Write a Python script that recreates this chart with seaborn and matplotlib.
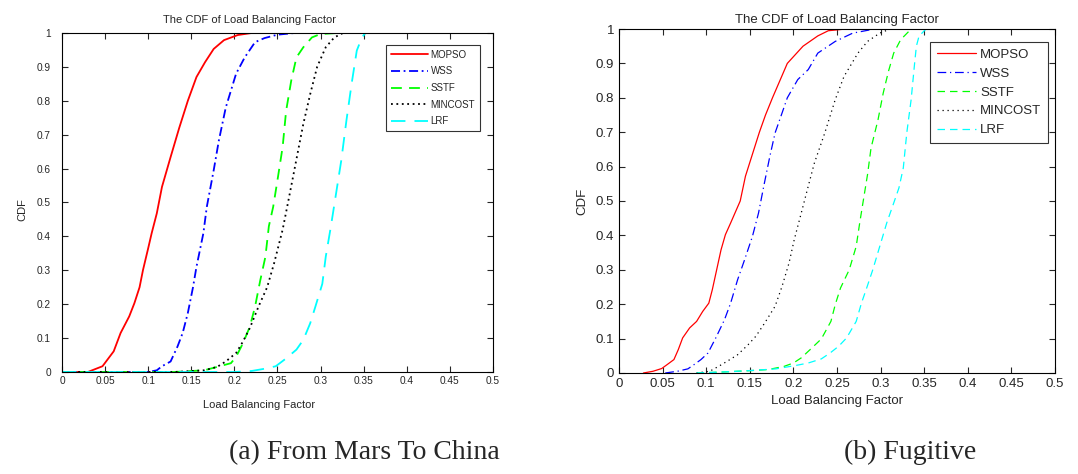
import matplotlib
matplotlib.use('Agg')
import matplotlib.pyplot as plt
import seaborn as sns

# (a) From Mars To China  -- x values and CDF values
a_mopso_x = [0.0, 0.03, 0.047, 0.06, 0.068, 0.078, 0.084, 0.09, 0.094, 0.1, 0.104, 0.11, 0.116, 0.126,
             0.136, 0.146, 0.156, 0.166, 0.176, 0.188, 0.204, 0.22, 0.5]
a_mopso_y = [0.0, 0.0, 0.017, 0.061, 0.115, 0.164, 0.203, 0.25, 0.301, 0.365, 0.409, 0.468, 0.546, 0.634,
             0.72, 0.80, 0.87, 0.914, 0.953, 0.979, 0.994, 1.0, 1.0]
a_wss_x = [0.0, 0.1, 0.11, 0.116, 0.126, 0.134, 0.14, 0.146, 0.152, 0.156, 0.164, 0.168, 0.176, 0.182,
           0.19, 0.202, 0.212, 0.224, 0.235, 0.25, 0.27, 0.5]
a_wss_y = [0.0, 0.0, 0.005, 0.017, 0.031, 0.075, 0.115, 0.174, 0.25, 0.31, 0.409, 0.487, 0.595, 0.683,
           0.78, 0.88, 0.928, 0.973, 0.985, 0.995, 1.0, 1.0]
a_sstf_x = [0.0, 0.13, 0.165, 0.18, 0.196, 0.202, 0.21, 0.218, 0.224, 0.23, 0.236, 0.24, 0.245, 0.25,
            0.256, 0.26, 0.266, 0.272, 0.28, 0.29, 0.3, 0.32, 0.5]
a_sstf_y = [0.0, 0.0, 0.005, 0.015, 0.026, 0.045, 0.085, 0.134, 0.193, 0.27, 0.34, 0.43, 0.487, 0.566,
            0.664, 0.77, 0.86, 0.928, 0.958, 0.987, 0.997, 1.0, 1.0]
a_mincost_x = [0.0, 0.13, 0.165, 0.18, 0.19, 0.202, 0.21, 0.218, 0.228, 0.238, 0.246, 0.256, 0.262, 0.268,
               0.274, 0.28, 0.288, 0.296, 0.306, 0.316, 0.326, 0.5]
a_mincost_y = [0.0, 0.0, 0.005, 0.015, 0.031, 0.056, 0.09, 0.13, 0.193, 0.25, 0.32, 0.42, 0.497, 0.575,
               0.654, 0.732, 0.82, 0.9, 0.958, 0.987, 1.0, 1.0]
a_lrf_x = [0.0, 0.2, 0.22, 0.236, 0.248, 0.26, 0.272, 0.28, 0.288, 0.294, 0.302, 0.306, 0.312, 0.318,
           0.324, 0.33, 0.336, 0.342, 0.348, 0.352, 0.5]
a_lrf_y = [0.0, 0.0, 0.003, 0.01, 0.017, 0.04, 0.066, 0.095, 0.144, 0.193, 0.26, 0.34, 0.43, 0.527,
           0.624, 0.742, 0.85, 0.948, 0.987, 1.0, 1.0]

# (b) Fugitive
b_mopso_x = [0.028, 0.039, 0.049, 0.055, 0.063, 0.068, 0.073, 0.081, 0.089, 0.096, 0.103, 0.107, 0.112,
             0.117, 0.122, 0.128, 0.139, 0.145, 0.151, 0.161, 0.168, 0.176, 0.193, 0.211, 0.228, 0.24, 0.26]
b_mopso_y = [0.0, 0.005, 0.013, 0.024, 0.039, 0.068, 0.102, 0.131, 0.15, 0.179, 0.203, 0.242, 0.3,
             0.358, 0.402, 0.436, 0.5, 0.572, 0.62, 0.7, 0.75, 0.8, 0.9, 0.95, 0.98, 0.995, 1.0]
b_wss_x = [0.053, 0.067, 0.079, 0.087, 0.094, 0.102, 0.111, 0.121, 0.128, 0.136, 0.144, 0.153, 0.16,
           0.166, 0.173, 0.179, 0.187, 0.193, 0.205, 0.217, 0.228, 0.248, 0.268, 0.293]
b_wss_y = [0.0, 0.005, 0.012, 0.026, 0.039, 0.058, 0.102, 0.155, 0.203, 0.271, 0.329, 0.397, 0.465,
           0.543, 0.63, 0.698, 0.756, 0.8, 0.853, 0.882, 0.93, 0.964, 0.988, 1.0]
b_sstf_x = [0.089, 0.12, 0.152, 0.171, 0.189, 0.2, 0.209, 0.22, 0.232, 0.243, 0.248, 0.254, 0.264,
            0.272, 0.276, 0.28, 0.285, 0.289, 0.297, 0.303, 0.309, 0.315, 0.323, 0.335]
b_sstf_y = [0.0, 0.003, 0.007, 0.01, 0.019, 0.029, 0.044, 0.07, 0.099, 0.15, 0.199, 0.247, 0.3,
            0.368, 0.436, 0.499, 0.577, 0.654, 0.736, 0.814, 0.877, 0.93, 0.969, 1.0]
b_mincost_x = [0.089, 0.104, 0.114, 0.124, 0.136, 0.148, 0.157, 0.167, 0.179, 0.187, 0.195, 0.201,
               0.209, 0.217, 0.224, 0.236, 0.248, 0.258, 0.274, 0.285, 0.299, 0.311]
b_mincost_y = [0.0, 0.005, 0.019, 0.034, 0.053, 0.082, 0.107, 0.145, 0.194, 0.252, 0.32, 0.388,
               0.465, 0.543, 0.61, 0.698, 0.795, 0.862, 0.93, 0.964, 0.988, 1.0]
b_lrf_x = [0.089, 0.12, 0.15, 0.18, 0.203, 0.217, 0.232, 0.242, 0.252, 0.261, 0.272, 0.278, 0.284,
           0.291, 0.299, 0.307, 0.315, 0.321, 0.326, 0.33, 0.335, 0.339, 0.341, 0.344, 0.352]
b_lrf_y = [0.0, 0.003, 0.007, 0.012, 0.022, 0.029, 0.041, 0.058, 0.078, 0.102, 0.15, 0.203, 0.247,
           0.3, 0.368, 0.436, 0.494, 0.538, 0.596, 0.698, 0.795, 0.901, 0.95, 0.979, 1.0]

names = ['MOPSO', 'WSS', 'SSTF', 'MINCOST', 'LRF']
colors = ['#ff0000', '#0000ff', '#00ff00', '#000000', '#00ffff']
xtick_vals = [0, 0.05, 0.1, 0.15, 0.2, 0.25, 0.3, 0.35, 0.4, 0.45, 0.5]
xtick_labels = ['0', '0.05', '0.1', '0.15', '0.2', '0.25', '0.3', '0.35', '0.4', '0.45', '0.5']
ytick_vals = [0, 0.1, 0.2, 0.3, 0.4, 0.5, 0.6, 0.7, 0.8, 0.9, 1]
ytick_labels = ['0', '0.1', '0.2', '0.3', '0.4', '0.5', '0.6', '0.7', '0.8', '0.9', '1']

sns.set_style('ticks')
plt.rcParams['font.family'] = ['Liberation Sans', 'DejaVu Sans']

fig = plt.figure(figsize=(10.78, 4.74), dpi=100)
ax1 = fig.add_axes([0.0575, 0.2152, 0.3998, 0.7152])
ax2 = fig.add_axes([0.5742, 0.2131, 0.4045, 0.7257])

series_a = [(a_mopso_x, a_mopso_y), (a_wss_x, a_wss_y), (a_sstf_x, a_sstf_y),
            (a_mincost_x, a_mincost_y), (a_lrf_x, a_lrf_y)]
series_b = [(b_mopso_x, b_mopso_y), (b_wss_x, b_wss_y), (b_sstf_x, b_sstf_y),
            (b_mincost_x, b_mincost_y), (b_lrf_x, b_lrf_y)]

styles_a = ['-', (0, (5, 2, 1, 2)), (0, (6, 4)), (0, (1, 2)), (0, (8, 5))]
styles_b = ['-', (0, (7, 3, 1, 3)), (0, (6, 4)), (0, (1, 3)), (0, (6, 4))]


def draw(ax, series, styles, lw, cfg):
    for (x, y), n, c, ls in zip(series, names, colors, styles):
        sns.lineplot(x=x, y=y, ax=ax, color=c, linestyle=ls, linewidth=lw, label=n,
                     sort=False, estimator=None)
    ax.set_xlim(0, 0.5)
    ax.set_ylim(0, 1)
    ax.set_xticks(xtick_vals)
    ax.set_xticklabels(xtick_labels)
    ax.set_yticks(ytick_vals)
    ax.set_yticklabels(ytick_labels)
    ax.tick_params(direction='in', top=True, right=True, labelsize=cfg['tick'], length=4, width=0.8)
    ax.tick_params(axis='x', pad=cfg['xpad'])
    ax.tick_params(axis='y', pad=cfg['ypad'])
    for sp in ax.spines.values():
        sp.set_linewidth(0.8)
        sp.set_color('black')
    ax.set_title('The CDF of Load Balancing Factor', fontsize=cfg['label'], pad=cfg['tpad'], x=cfg['tx'])
    ax.set_xlabel('Load Balancing Factor', fontsize=cfg['label'], va='center')
    ax.xaxis.set_label_coords(*cfg['xl'])
    ax.set_ylabel('CDF', fontsize=cfg['label'], va='center')
    ax.yaxis.set_label_coords(*cfg['yl'])
    leg = ax.legend(loc='upper right', bbox_to_anchor=cfg['anchor'], borderaxespad=0,
                    fontsize=cfg['leg'], frameon=True, fancybox=False, edgecolor='black',
                    handlelength=cfg['hl'], borderpad=0.5, labelspacing=cfg['ls'], handletextpad=0.3)
    leg.get_frame().set_linewidth(0.8)


cfg_a = dict(tick=7.3, label=8, xpad=3, ypad=8, tpad=7, tx=0.436, xl=(0.457, -0.097), yl=(-0.093, 0.478),
             anchor=(0.970, 0.965), leg=7, ls=0.68, hl=3.8)
cfg_b = dict(tick=9.5, label=9.5, xpad=3.5, ypad=3.5, tpad=4, tx=0.5, xl=(0.5, -0.081), yl=(-0.083, 0.5),
             anchor=(0.984, 0.962), leg=9.5, ls=0.5, hl=3.0)
draw(ax1, series_a, styles_a, 1.3, cfg_a)
draw(ax2, series_b, styles_b, 0.9, cfg_b)

fig.text(0.338, 0.046, '(a) From Mars To China', fontsize=20, family='Liberation Serif',
         ha='center', va='center')
fig.text(0.844, 0.046, '(b) Fugitive', fontsize=20, family='Liberation Serif',
         ha='center', va='center')

fig.savefig('out.png', dpi=100)
